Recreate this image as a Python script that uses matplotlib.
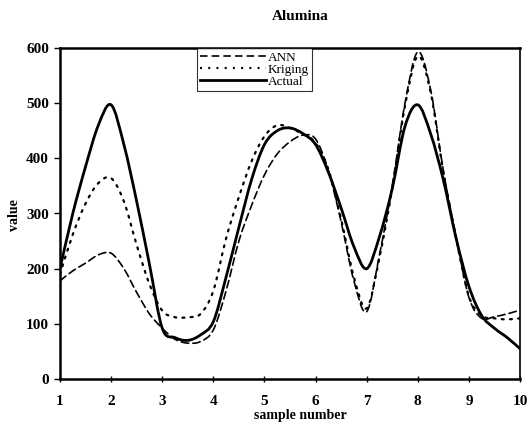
import numpy as np
import matplotlib
matplotlib.use("Agg")
import matplotlib.pyplot as plt
from matplotlib.path import Path
from matplotlib.patches import PathPatch
from matplotlib.lines import Line2D

# sample positions (read every quarter step)
sample = [1, 1.25, 1.5, 1.75, 2, 2.25, 2.5, 2.75, 3, 3.25, 3.5, 3.75, 4, 4.25, 4.5,
          4.75, 5, 5.25, 5.5, 5.75, 6, 6.25, 6.5, 6.75, 7, 7.25, 7.5, 7.75, 8, 8.25,
          8.5, 8.75, 9, 9.25, 9.5, 9.75, 10]

ann = [178, 196, 210, 225, 228, 200, 157, 118, 92, 72, 65, 68, 89, 160, 250,
       315, 370, 408, 430, 442, 435, 378, 285, 178, 122, 225, 350, 500, 593, 525,
       378, 258, 148, 110, 113, 118, 125]

kriging = [190, 262, 318, 355, 364, 322, 243, 172, 124, 112, 112, 118, 160, 255, 330,
           395, 440, 460, 455, 444, 428, 380, 290, 185, 128, 220, 345, 495, 585, 520,
           375, 255, 150, 115, 110, 108, 110]

actual = [200, 300, 385, 460, 497, 425, 322, 208, 92, 75, 70, 80, 104, 185, 275,
          362, 425, 450, 455, 445, 425, 375, 310, 240, 200, 258, 345, 458, 497, 445,
          361, 255, 168, 115, 92, 75, 55]

xticks = list(range(1, 11))
yticks = [0, 100, 200, 300, 400, 500, 600]

serif = "Liberation Serif"


def smooth_path(x, y):
    # cubic bezier segments through every point (catmull-rom tangents)
    p = np.column_stack([x, y]).astype(float)
    ext = np.vstack([p[0], p, p[-1]])
    verts = [p[0]]
    codes = [Path.MOVETO]
    for i in range(len(p) - 1):
        p0, p1, p2, p3 = ext[i], ext[i + 1], ext[i + 2], ext[i + 3]
        c1 = p1 + (p2 - p0) / 6.0
        c2 = p2 - (p3 - p1) / 6.0
        verts += [c1, c2, p2]
        codes += [Path.CURVE4] * 3
    return Path(verts, codes)


fig = plt.figure(figsize=(5.28, 4.36), dpi=100)
ax = fig.add_axes([60 / 528, 57 / 436, 460 / 528, 331 / 436])

styles = {
    "ANN": dict(color="black", lw=1.2, ls=(0, (4.5, 2.5))),
    "Kriging": dict(color="black", lw=1.6, ls=(0, (0.9, 2.8))),
    "Actual": dict(color="black", lw=2.0, ls="-"),
}

for name, vals in [("ANN", ann), ("Kriging", kriging), ("Actual", actual)]:
    st = styles[name]
    ax.add_patch(PathPatch(smooth_path(sample, vals), fill=False,
                           edgecolor=st["color"], lw=st["lw"], linestyle=st["ls"],
                           capstyle="round"))

ax.set_xlim(1, 10)
ax.set_ylim(0, 600)
ax.set_xticks(xticks)
ax.set_yticks(yticks)

for sp in ["left", "bottom", "top"]:
    ax.spines[sp].set_linewidth(1.8)
ax.spines["right"].set_linewidth(1.2)

ax.tick_params(axis="x", direction="inout", length=5, width=1, pad=9)
ax.tick_params(axis="y", direction="out", length=4, width=1, pad=4)
for lab in ax.get_xticklabels() + ax.get_yticklabels():
    lab.set_fontfamily(serif)
    lab.set_fontweight("bold")
    lab.set_fontsize(11)

handles = [Line2D([], [], color="black", lw=styles[n]["lw"], ls=styles[n]["ls"])
           for n in ["ANN", "Kriging", "Actual"]]
leg = ax.legend(handles, ["ANN", "Kriging", "Actual"], loc="upper left",
                bbox_to_anchor=(0.298, 1.0), frameon=True, fancybox=False,
                prop={"family": serif, "size": 9.5}, handlelength=5.0,
                handletextpad=0.1, labelspacing=0.0, borderpad=0.25,
                borderaxespad=0.0)
leg.get_frame().set_edgecolor("black")
leg.get_frame().set_linewidth(0.8)

fig.text(300 / 528, 1 - 17 / 436, "Alumina", ha="center", va="center",
         family=serif, weight="bold", size=11)
fig.text(300 / 528, 1 - 415 / 436, "sample number", ha="center", va="center",
         family=serif, weight="bold", size=10)
fig.text(15 / 528, 1 - 215 / 436, "value", ha="center", va="center",
         rotation=90, family=serif, weight="bold", size=10)

fig.savefig("out.png", dpi=100)
